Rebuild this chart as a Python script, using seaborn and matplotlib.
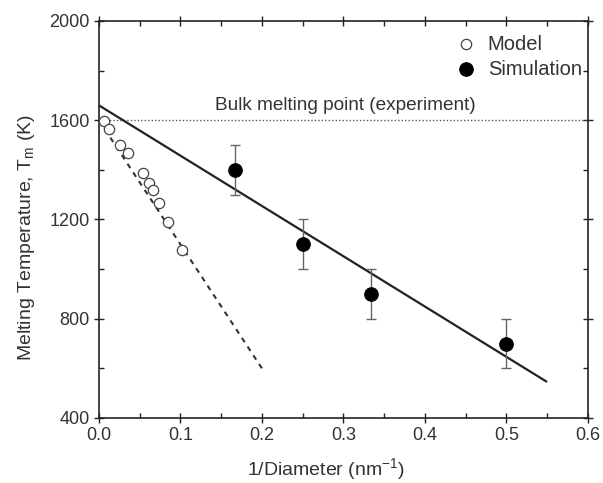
import matplotlib
matplotlib.use("Agg")
import matplotlib.pyplot as plt
import seaborn as sns
from matplotlib.ticker import MultipleLocator

# Data
model_x = [0.006, 0.013, 0.026, 0.036, 0.054, 0.062, 0.066, 0.074, 0.085, 0.102]
model_y = [1597, 1563, 1502, 1466, 1386, 1348, 1319, 1265, 1191, 1077]
sim_x = [1/6, 0.25, 1/3, 0.5]
sim_y = [1400, 1100, 900, 700]
sim_err = [100, 100, 100, 100]
model_line_x = [0.0, 0.2]
model_line_y = [1600, 600]
fit_line_x = [0.0, 0.549]
fit_line_y = [1660, 547]
bulk_tm = 1600

sns.set_theme(style="ticks")
plt.rcParams['font.family'] = ['Liberation Sans', 'DejaVu Sans']
plt.rcParams['mathtext.fontset'] = 'custom'
plt.rcParams['mathtext.rm'] = 'Liberation Sans'
plt.rcParams['mathtext.it'] = 'Liberation Sans'
txt = '#333333'

fig = plt.figure(figsize=(6.03, 4.83), dpi=100)
ax = fig.add_axes([0.164, 0.1346, 0.811, 0.822])

ax.axhline(bulk_tm, color='#555555', lw=1.0, ls=(0, (1, 1.5)), zorder=1)
sns.lineplot(x=model_line_x, y=model_line_y, ax=ax, color='#333333', lw=1.5,
             linestyle=(0, (2.5, 2.5)), zorder=2)
sns.lineplot(x=fit_line_x, y=fit_line_y, ax=ax, color='#222222', lw=1.6, zorder=2)
ax.errorbar(sim_x, sim_y, yerr=sim_err, fmt='none', ecolor='#666666', elinewidth=1.0,
            capsize=3.5, capthick=1.0, zorder=3)
sns.scatterplot(x=model_x, y=model_y, ax=ax, marker='o', s=55, facecolor='white',
                edgecolor='#444444', linewidth=0.9, zorder=4, label='Model')
sns.scatterplot(x=sim_x, y=sim_y, ax=ax, marker='o', s=95, color='black',
                edgecolor='black', zorder=5, label='Simulation')

ax.text(0.143, 1640, 'Bulk melting point (experiment)', fontsize=13.7, color=txt,
        ha='left', va='baseline')

ax.set_xlim(0, 0.6)
ax.set_ylim(400, 2000)
ax.xaxis.set_major_locator(MultipleLocator(0.1))
ax.xaxis.set_minor_locator(MultipleLocator(0.05))
ax.yaxis.set_major_locator(MultipleLocator(400))
ax.yaxis.set_minor_locator(MultipleLocator(200))
ax.set_xticklabels([f'{v:.1f}' for v in ax.get_xticks()])

for s in ax.spines.values():
    s.set_color('#222222')
    s.set_linewidth(1.2)
ax.tick_params(which='major', direction='inout', length=7, width=1.0, colors='#222222',
               labelcolor=txt, labelsize=13, top=True, right=True, pad=3)
ax.tick_params(which='minor', direction='in', length=3.5, width=1.0, colors='#222222',
               top=True, right=True)

ax.set_xlabel('1/Diameter (nm$^{-1}$)', fontsize=14, color=txt)
ax.set_ylabel('Melting Temperature, T$_\\mathrm{m}$ (K)', fontsize=14, color=txt)
ax.xaxis.set_label_coords(0.465, -0.097)
ax.yaxis.set_label_coords(-0.127, 0.455)

leg = ax.legend(loc='upper right', bbox_to_anchor=(1.004, 0.986), frameon=False,
                fontsize=14.5, handletextpad=0.6, borderaxespad=0.0, labelspacing=0.3,
                handlelength=1.0, labelcolor=txt)

fig.savefig('out.png', dpi=100)
